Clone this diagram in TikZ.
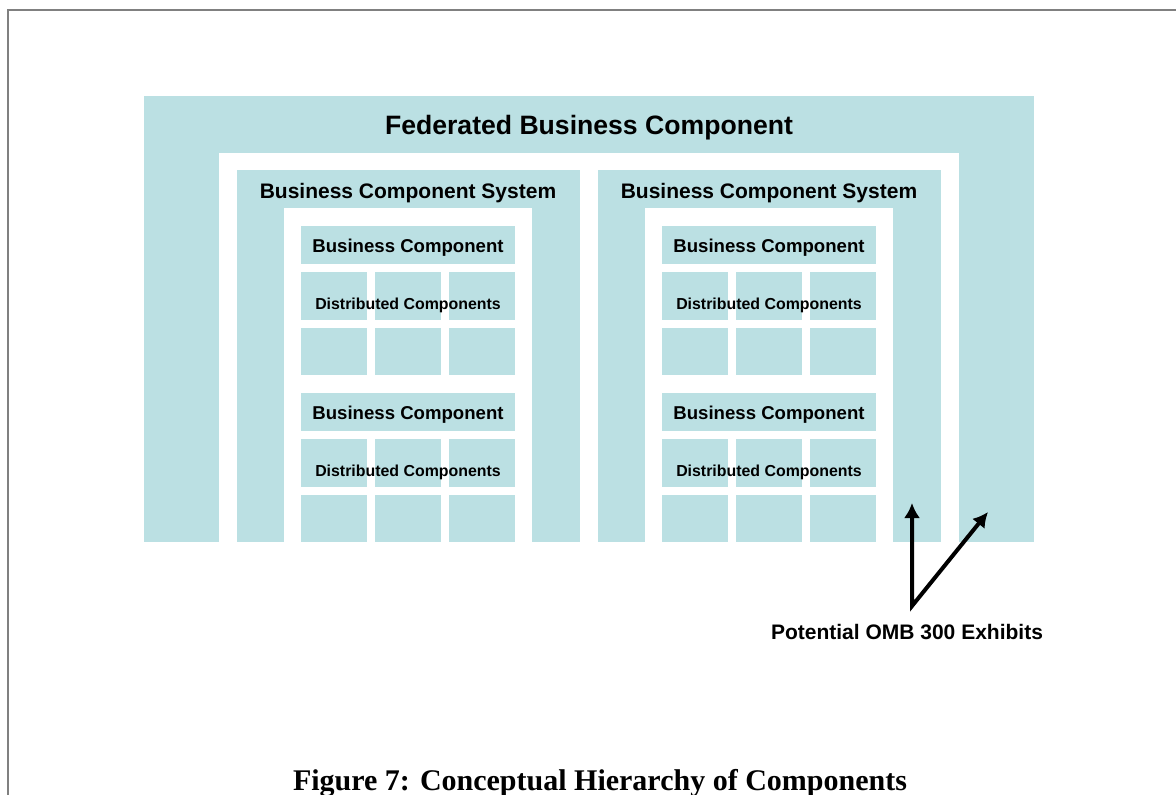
\documentclass[tikz,border=0pt]{standalone}
\usepackage{fontspec}
\setmainfont{Liberation Sans}
\newfontfamily\captionfont{Liberation Serif}
\usetikzlibrary{arrows.meta,positioning}
\definecolor{compblue}{RGB}{187,224,227}
\definecolor{framegray}{RGB}{128,128,128}

\begin{document}
\begin{tikzpicture}[x=1pt,y=-1pt,inner sep=0pt,outer sep=0pt]
  \tikzstyle{tile}=[fill=compblue,anchor=north west]
  \tikzstyle{gap}=[fill=white,anchor=north west]
  \tikzstyle{title}=[anchor=base,font=\bfseries]
  \tikzstyle{exhibit}=[{Latex[length=15pt,width=16pt]}-{Latex[length=15pt,width=16pt]},line width=4pt,line join=miter]
  \useasboundingbox (0,0) rectangle (1176,795);
  \draw[framegray,line width=2pt] (8,795) -- (8,10) -- (1176,10);
  % federated component and its opening
  \node[tile,minimum width=890,minimum height=446] (fed) at (144,96) {};
  \node[gap,minimum width=740,minimum height=389] (fedgap) at (219,153) {};
  \node[title,font=\fontsize{26.6}{30}\selectfont\bfseries] (fedtitle) at (589,134.5) {Federated Business Component};
  % the two systems
  \foreach \sx/\sn in {237/l,598/r} {
    \node[tile,minimum width=343,minimum height=372] (bcs\sn) at (\sx,170) {};
    \node[gap,minimum width=248,minimum height=334] (bcsgap\sn) at (\sx+47,208) {};
    \node[title,font=\fontsize{21}{24}\selectfont\bfseries] (bcstitle\sn) at (\sx+171,198.5) {Business Component System};
    \foreach \by/\bn in {226/a,393/b} {
      \node[tile,minimum width=214,minimum height=38] (bc\sn\bn) at (\sx+64,\by) {};
      \node[title,font=\fontsize{18.6}{22}\selectfont\bfseries] (bclabel\sn\bn) at (\sx+171,\by+26) {Business Component};
      \foreach \cx in {0,74,148}
        \foreach \cy/\ch in {46/48,102/47}
          \node[tile,minimum width=66,minimum height=\ch] (dc\sn\bn-\cx-\cy) at (\sx+64+\cx,\by+\cy) {};
      \node[title,font=\fontsize{15.9}{18}\selectfont\bfseries] (dclabel\sn\bn) at (\sx+171,\by+83) {Distributed Components};
    }
  }
  % exhibits
  \node[title,font=\fontsize{21}{24}\selectfont\bfseries] (exhibits) at (907,639) {Potential OMB 300 Exhibits};
  \coordinate (apex) at (912,606);
  \coordinate (tipsys) at (912,503);
  \coordinate (tipfed) at (988,512);
  \draw[exhibit] (tipsys) -- (apex) -- (tipfed);
  \node[title,font=\captionfont\fontsize{30}{34}\selectfont\bfseries] (caption) at (600,790) {Figure 7: Conceptual Hierarchy of Components};
\end{tikzpicture}
\end{document}
